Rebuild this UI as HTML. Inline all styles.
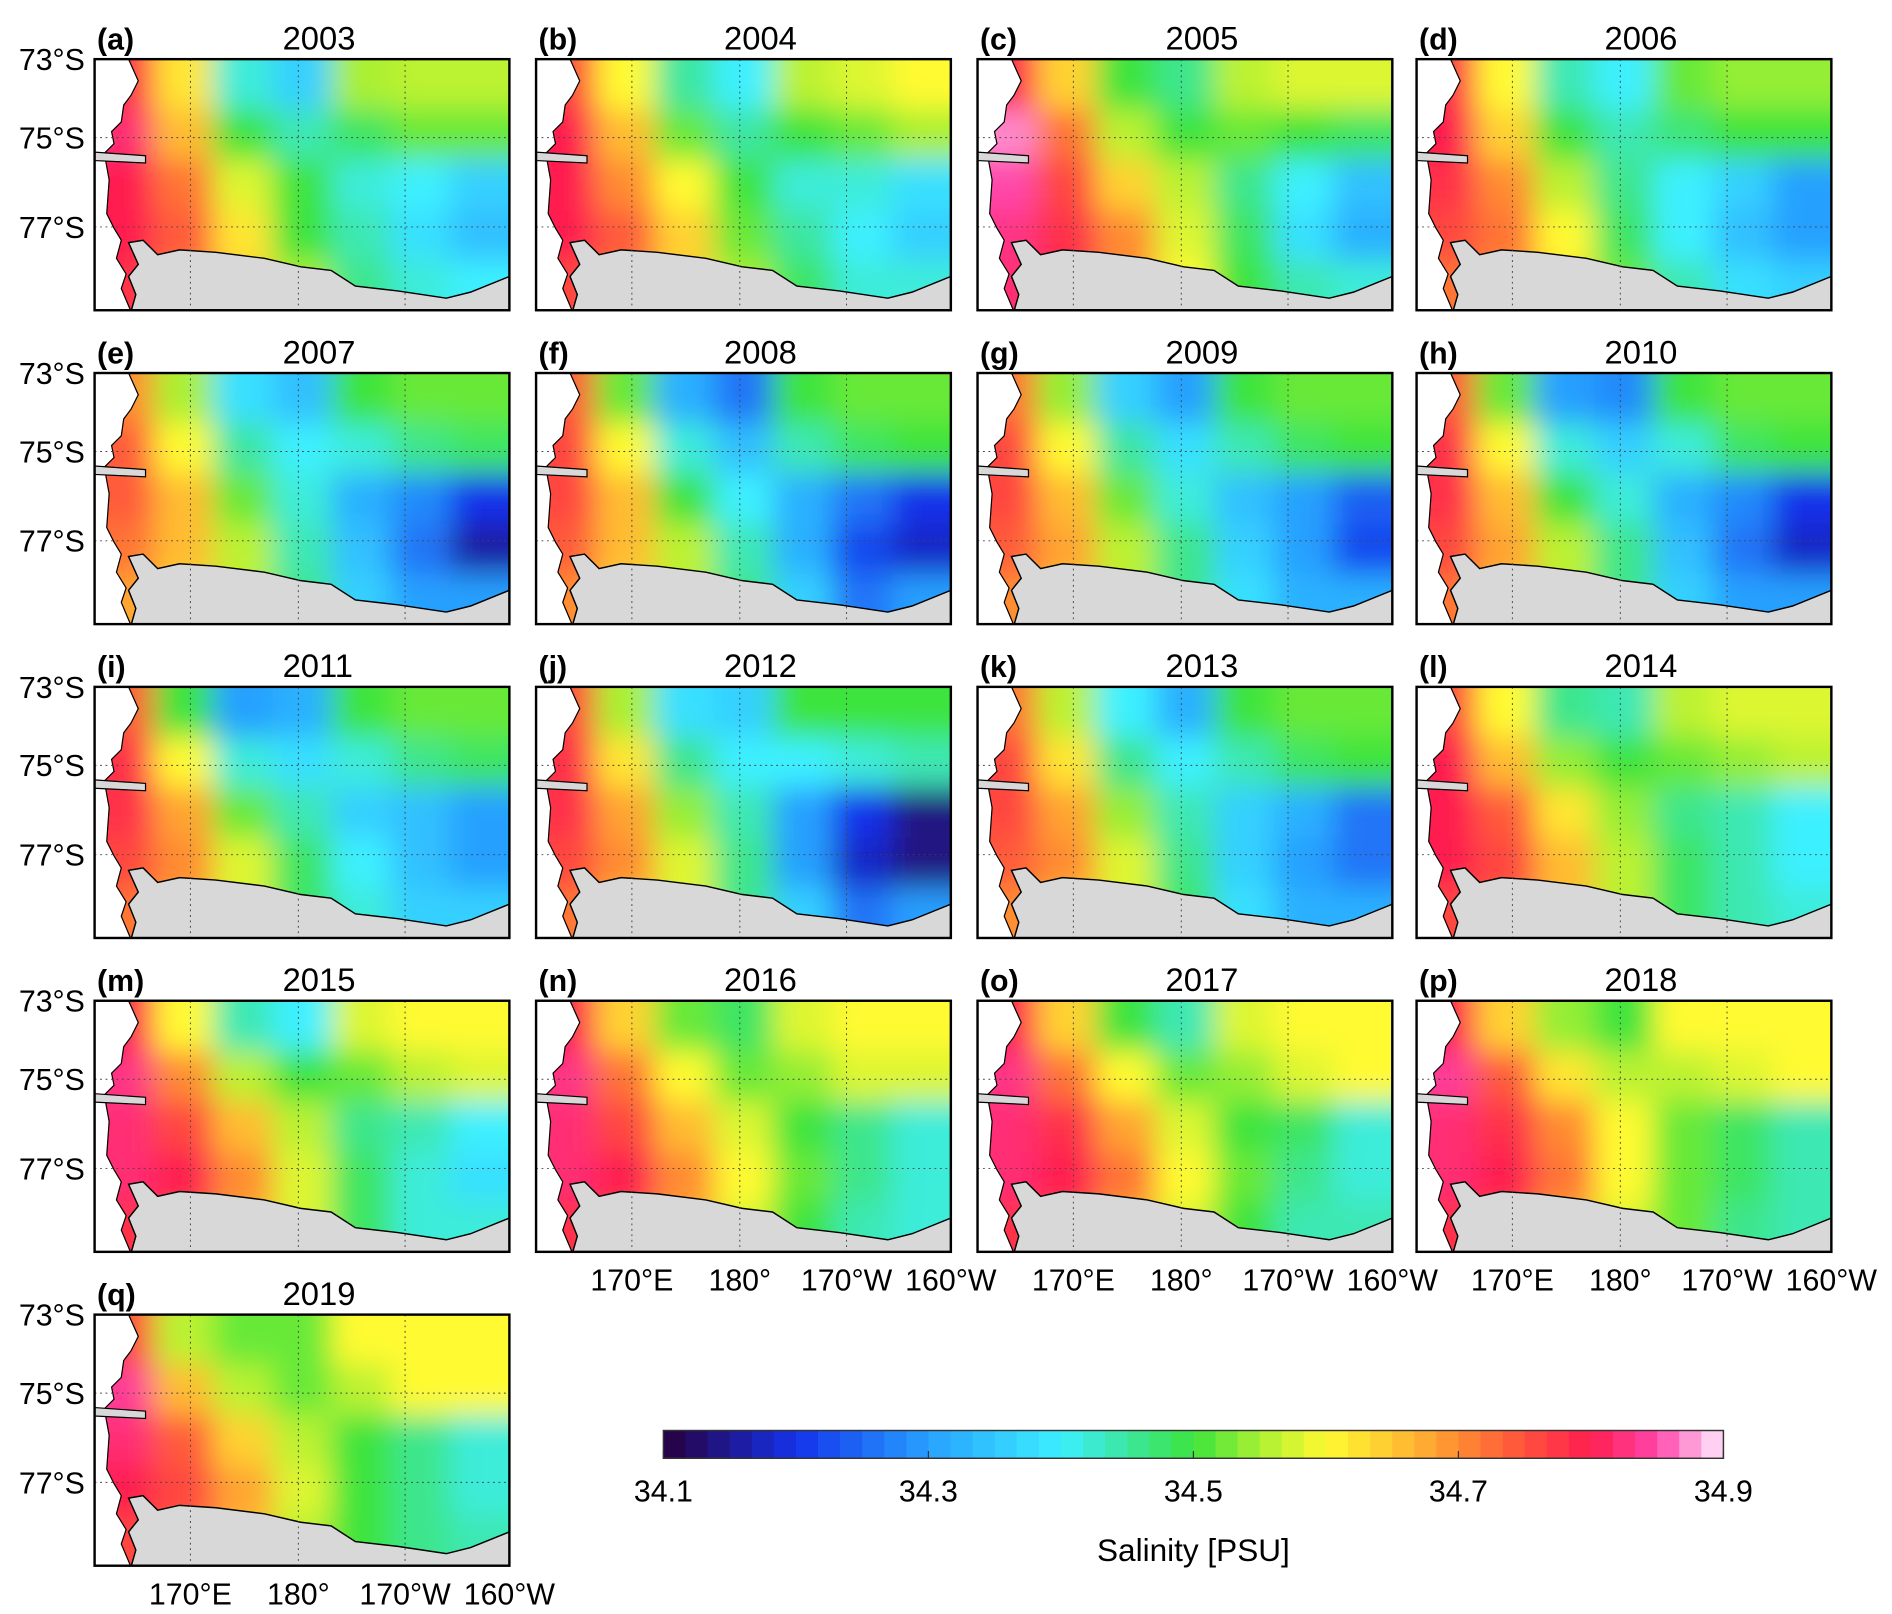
<!DOCTYPE html>
<html><head><meta charset="utf-8"><style>
html,body{margin:0;padding:0;background:#fff;}
svg{display:block;font-family:"Liberation Sans","DejaVu Sans",sans-serif;}
</style></head><body>
<svg id="fig" width="1892" height="1614" viewBox="0 0 1560 1337" preserveAspectRatio="none" xmlns="http://www.w3.org/2000/svg">
<defs>
<filter id="blur" x="-20%" y="-20%" width="140%" height="140%"><feGaussianBlur stdDeviation="12"/></filter>
</defs>
</svg>
<script>
const years=[2003,2004,2005,2006,2007,2008,2009,2010,2011,2012,2013,2014,2015,2016,2017,2018,2019];
const letters=['a','b','c','d','e','f','g','h','i','j','k','l','m','n','o','p','q'];
const latTicks=['73°S','75°S','77°S'];
const lonTicks=['170°E','180°','170°W','160°W'];
const cbTicks=[34.1,34.3,34.5,34.7,34.9];
// 5 rows (north→south) × 7 cols (west→east) salinity estimates per year
const g2003=[34.78,34.62,34.42,34.36,34.55,34.56,34.56, 34.82,34.66,34.5,34.44,34.48,34.52,34.52, 34.8,34.72,34.58,34.5,34.42,34.4,34.36, 34.8,34.74,34.62,34.5,34.44,34.38,34.34, 34.78,34.72,34.64,34.55,34.46,34.42,34.4];
const g2004=[34.76,34.6,34.45,34.4,34.56,34.58,34.6, 34.8,34.66,34.52,34.45,34.5,34.52,34.55, 34.8,34.7,34.6,34.5,34.42,34.42,34.38, 34.8,34.74,34.64,34.52,34.45,34.4,34.36, 34.76,34.72,34.64,34.55,34.48,34.42,34.42];
const g2005=[34.8,34.64,34.5,34.46,34.56,34.58,34.58, 34.87,34.72,34.56,34.5,34.52,34.5,34.48, 34.85,34.76,34.64,34.56,34.46,34.4,34.34, 34.83,34.78,34.7,34.58,34.48,34.38,34.32, 34.82,34.8,34.7,34.6,34.5,34.44,34.42];
const g2006=[34.78,34.6,34.44,34.4,34.52,34.54,34.54, 34.8,34.64,34.5,34.44,34.47,34.5,34.5, 34.78,34.7,34.56,34.46,34.4,34.36,34.3, 34.76,34.72,34.6,34.48,34.4,34.34,34.3, 34.72,34.7,34.62,34.52,34.44,34.38,34.36];
const g2007=[34.7,34.55,34.38,34.34,34.5,34.52,34.52, 34.74,34.6,34.45,34.4,34.42,34.46,34.48, 34.74,34.66,34.52,34.42,34.32,34.28,34.2, 34.72,34.66,34.56,34.44,34.34,34.26,34.16, 34.68,34.64,34.56,34.46,34.36,34.3,34.3];
const g2008=[34.74,34.52,34.32,34.26,34.5,34.52,34.52, 34.76,34.6,34.42,34.34,34.44,34.48,34.5, 34.76,34.66,34.5,34.4,34.32,34.26,34.2, 34.74,34.66,34.56,34.44,34.32,34.22,34.18, 34.7,34.64,34.56,34.46,34.36,34.26,34.3];
const g2009=[34.72,34.54,34.36,34.3,34.5,34.52,34.52, 34.76,34.6,34.45,34.38,34.44,34.48,34.5, 34.76,34.66,34.52,34.42,34.34,34.3,34.24, 34.74,34.68,34.56,34.46,34.36,34.3,34.22, 34.7,34.66,34.56,34.46,34.38,34.32,34.32];
const g2010=[34.74,34.52,34.3,34.28,34.5,34.52,34.52, 34.78,34.6,34.42,34.36,34.42,34.48,34.5, 34.78,34.66,34.5,34.42,34.32,34.28,34.2, 34.76,34.68,34.56,34.46,34.34,34.26,34.18, 34.72,34.66,34.56,34.46,34.36,34.3,34.3];
const g2011=[34.74,34.5,34.3,34.32,34.5,34.52,34.52, 34.78,34.6,34.42,34.38,34.42,34.46,34.48, 34.78,34.68,34.52,34.44,34.36,34.34,34.3, 34.76,34.7,34.58,34.48,34.4,34.34,34.3, 34.72,34.68,34.58,34.48,34.42,34.36,34.36];
const g2012=[34.76,34.55,34.38,34.36,34.5,34.5,34.5, 34.78,34.62,34.46,34.4,34.4,34.42,34.44, 34.78,34.68,34.54,34.44,34.3,34.2,34.14, 34.76,34.7,34.58,34.46,34.3,34.18,34.14, 34.72,34.66,34.58,34.46,34.36,34.26,34.3];
const g2013=[34.72,34.56,34.4,34.32,34.5,34.52,34.52, 34.76,34.62,34.46,34.4,34.44,34.48,34.5, 34.76,34.68,34.54,34.44,34.36,34.32,34.26, 34.74,34.7,34.58,34.46,34.36,34.3,34.26, 34.7,34.66,34.58,34.48,34.38,34.32,34.32];
const g2014=[34.76,34.6,34.46,34.44,34.56,34.58,34.58, 34.8,34.66,34.54,34.5,34.52,34.54,34.56, 34.8,34.74,34.62,34.54,34.46,34.44,34.4, 34.8,34.76,34.66,34.56,34.48,34.44,34.4, 34.76,34.74,34.66,34.56,34.48,34.44,34.42];
const g2015=[34.8,34.6,34.44,34.4,34.58,34.6,34.6, 34.83,34.7,34.56,34.5,34.52,34.56,34.58, 34.82,34.76,34.66,34.56,34.46,34.44,34.4, 34.82,34.8,34.7,34.58,34.48,34.42,34.38, 34.78,34.76,34.68,34.58,34.48,34.42,34.42];
const g2016=[34.8,34.64,34.52,34.48,34.58,34.6,34.6, 34.83,34.72,34.6,34.52,34.54,34.58,34.58, 34.82,34.76,34.66,34.58,34.5,34.46,34.42, 34.82,34.8,34.7,34.6,34.52,34.46,34.42, 34.78,34.76,34.68,34.58,34.5,34.44,34.42];
const g2017=[34.8,34.64,34.5,34.44,34.58,34.6,34.6, 34.83,34.72,34.6,34.52,34.54,34.58,34.6, 34.82,34.78,34.68,34.58,34.5,34.48,34.42, 34.82,34.8,34.72,34.6,34.52,34.46,34.42, 34.78,34.76,34.68,34.58,34.5,34.44,34.44];
const g2018=[34.8,34.64,34.54,34.5,34.6,34.6,34.6, 34.84,34.74,34.62,34.56,34.56,34.58,34.6, 34.82,34.78,34.7,34.6,34.52,34.48,34.44, 34.82,34.8,34.72,34.6,34.52,34.48,34.44, 34.78,34.76,34.68,34.58,34.52,34.46,34.44];
const g2019=[34.76,34.56,34.52,34.52,34.6,34.6,34.6, 34.84,34.66,34.56,34.52,34.56,34.6,34.6, 34.82,34.74,34.64,34.56,34.5,34.46,34.42, 34.8,34.76,34.68,34.58,34.5,34.46,34.42, 34.76,34.74,34.66,34.56,34.5,34.46,34.44];
const grids=[g2003,g2004,g2005,g2006,g2007,g2008,g2009,g2010,g2011,g2012,g2013,g2014,g2015,g2016,g2017,g2018,g2019];

const NS='http://www.w3.org/2000/svg';
const svg=document.getElementById('fig');
function mk(tag,attrs,parent){const e=document.createElementNS(NS,tag);for(const k in attrs)e.setAttribute(k,attrs[k]);(parent||svg).appendChild(e);return e;}
const stops=[[34.1,[40,0,60]],[34.2,[20,50,235]],[34.3,[40,160,255]],[34.35,[50,200,255]],[34.4,[60,240,255]],[34.45,[60,230,160]],[34.5,[60,228,60]],[34.55,[170,240,50]],[34.6,[255,250,50]],[34.65,[255,200,50]],[34.7,[255,140,50]],[34.75,[255,80,60]],[34.8,[255,30,80]],[34.85,[255,70,170]],[34.9,[255,235,255]]];
function cmap(v){v=Math.max(34.1,Math.min(34.9,v));for(let i=0;i<stops.length-1;i++){const a=stops[i],b=stops[i+1];if(v<=b[0]){const t=(v-a[0])/(b[0]-a[0]);const c=a[1].map((x,j)=>Math.round(x+(b[1][j]-x)*t));return 'rgb('+c.join(',')+')';}}return 'rgb(255,235,255)';}
const PW=342,PH=208;
const colX=[78,442,806,1168],rowY=[49,309,569,829,1089];
const gridLatY=[0,65,139],gridLonX=[79,168,256];
const land="M0,0 L28,0 L36,18 L30,30 L24,38 L22,52 L14,60 L16,70 L8,78 L12,100 L10,128 L16,140 L22,150 L18,165 L26,178 L22,190 L30,209 L0,209 Z";
const shelf="M28,152 L40,150 L48,158 L52,162 L70,158 L100,160 L140,165 L170,172 L195,175 L215,188 L250,192 L290,198 L310,193 L342,180 L342,209 L30,209 L34,195 L28,180 L36,170 Z";
years.forEach((yr,i)=>{
  const x0=colX[i%4],y0=rowY[Math.floor(i/4)];
  const g=mk('g',{transform:`translate(${x0},${y0})`});
  
  
  const cp=mk('clipPath',{id:'cp'+i},svg.querySelector('defs'));
  mk('rect',{x:0,y:0,width:PW,height:PH},cp);
  const field=mk('g',{'clip-path':`url(#cp${i})`},g);
  const inner=mk('g',{filter:'url(#blur)'},field);
  const grid=grids[i],cw=PW/7,ch=PH/5;
  for(let r=0;r<5;r++)for(let c=0;c<7;c++){
    const cell=mk('rect',{x:c*cw-(c===0?40:0),y:r*ch-(r===0?40:0),width:cw+(c===0||c===6?40:0)+1,height:ch+(r===0||r===4?40:0)+1,fill:cmap(grid[r*7+c])},inner);
    
    
  }
  const sh=mk('path',{d:shelf,fill:'#d8d8d8',stroke:'#000','stroke-width':1.2},field);
  
  
  const ld=mk('path',{d:land,fill:'#fff',stroke:'#000','stroke-width':1},field);
  
  
  const tg=mk('path',{d:"M0,77 L42,80 L42,86 L0,84 Z",fill:'#d8d8d8',stroke:'#000','stroke-width':1},field);
  
  
  gridLonX.forEach(gx=>mk('line',{x1:gx,y1:0,x2:gx,y2:PH,stroke:'#444','stroke-width':0.8,'stroke-dasharray':'1.5,3'},field));
  gridLatY.slice(1).forEach(gy=>mk('line',{x1:0,y1:gy,x2:PW,y2:gy,stroke:'#444','stroke-width':0.8,'stroke-dasharray':'1.5,3'},field));
  const fr=mk('rect',{x:0,y:0,width:PW,height:PH,fill:'none',stroke:'#000','stroke-width':2},g);
  
  
  const lt=mk('text',{x:2,y:-8,'font-size':25,'font-weight':'bold'},g);lt.textContent='('+letters[i]+')';
  
  
  const yt=mk('text',{x:155,y:-8,'font-size':27},g);yt.textContent=yr;
  
  
  if(i%4===0){latTicks.forEach((t,k)=>{const tx=mk('text',{x:-8,y:gridLatY[k]+9,'font-size':25,'text-anchor':'end'},g);tx.textContent=t;
    
    });}
  if(i>=13||i===16){const lx=[79,168,256,342];lonTicks.forEach((t,k)=>{const tx=mk('text',{x:lx[k],y:PH+32,'font-size':25,'text-anchor':'middle'},g);tx.textContent=t;
    
    });}
});
// colorbar
const cbX0=547,cbX1=1421,cbY=1185,cbH=23;
function cbx(v){return cbX0+(v-34.1)/(34.9-34.1)*(cbX1-cbX0);}
const cb=mk('g',{});


for(let k=0;k<48;k++){const v=34.1+(k+0.5)*0.8/48;mk('rect',{x:cbx(34.1+k*0.8/48),y:cbY,width:(cbX1-cbX0)/48+0.6,height:cbH,fill:cmap(v)},cb);}
mk('rect',{x:cbX0,y:cbY,width:cbX1-cbX0,height:cbH,fill:'none',stroke:'#333','stroke-width':1.2},cb);
cbTicks.forEach(t=>{mk('line',{x1:cbx(t),y1:cbY+cbH,x2:cbx(t),y2:cbY+cbH-6,stroke:'#333'},cb);
  const tx=mk('text',{x:cbx(t),y:cbY+cbH+36,'font-size':25,'text-anchor':'middle'},cb);tx.textContent=t.toFixed(1);
  
  });
const ct=mk('text',{x:(cbX0+cbX1)/2,y:cbY+cbH+85,'font-size':26,'text-anchor':'middle'},cb);ct.textContent='Salinity [PSU]';


</script>
</body></html>
